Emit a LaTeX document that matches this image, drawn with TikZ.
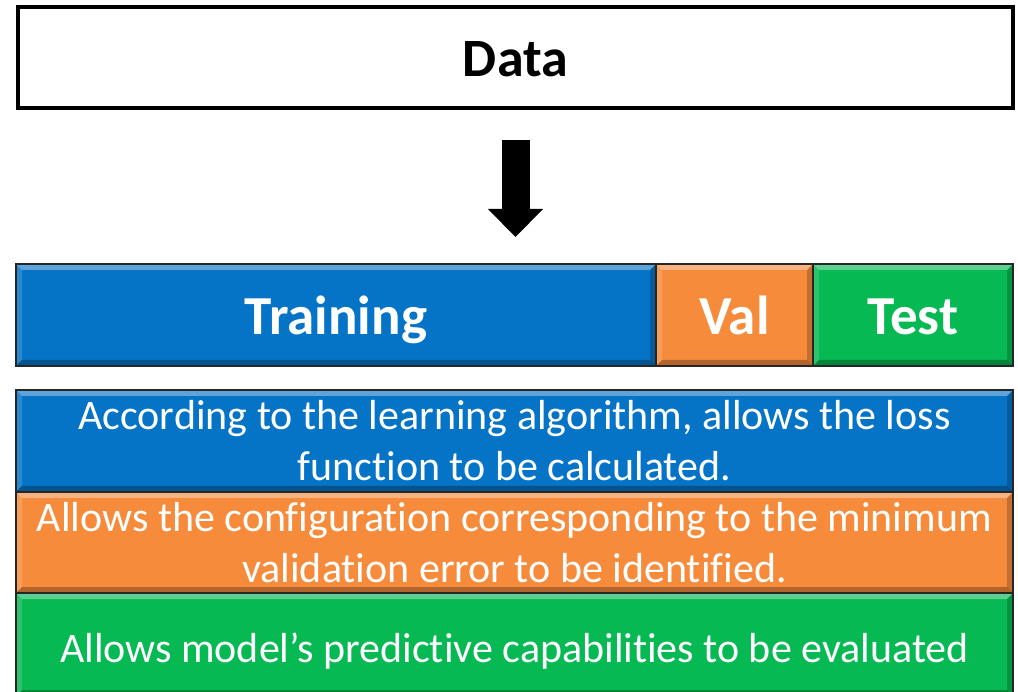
\documentclass[tikz,border=0pt]{standalone}
\usepackage{fontspec}
\setmainfont{Carlito}[Ligatures=NoCommon]
\usetikzlibrary{arrows.meta,calc}
\definecolor{trainblue}{RGB}{5,116,198}
\definecolor{valorange}{RGB}{246,139,60}
\definecolor{testgreen}{RGB}{6,185,83}
\tikzset{
  bevel/.style={path picture={
    % light top and left edges, shaded bottom and right edges
    \fill[white,opacity=.35]
      (path picture bounding box.north west) -- (path picture bounding box.north east)
      -- ([shift={(-6pt,-6pt)}]path picture bounding box.north east)
      -- ([shift={(6pt,-6pt)}]path picture bounding box.north west) -- cycle;
    \fill[white,opacity=.15]
      (path picture bounding box.north west) -- (path picture bounding box.south west)
      -- ([shift={(6pt,6pt)}]path picture bounding box.south west)
      -- ([shift={(6pt,-6pt)}]path picture bounding box.north west) -- cycle;
    \fill[black,opacity=.28]
      (path picture bounding box.south west) -- (path picture bounding box.south east)
      -- ([shift={(-6pt,6pt)}]path picture bounding box.south east)
      -- ([shift={(6pt,6pt)}]path picture bounding box.south west) -- cycle;
    \fill[black,opacity=.2]
      (path picture bounding box.north east) -- (path picture bounding box.south east)
      -- ([shift={(-6pt,6pt)}]path picture bounding box.south east)
      -- ([shift={(-6pt,-6pt)}]path picture bounding box.north east) -- cycle;
  }},
  part/.style={draw=black!85, line width=1.5pt, inner sep=0pt, outer sep=0pt,
    text=white, bevel},
  splitlabel/.style={font=\fontsize{55}{60}\selectfont\bfseries, text height=40pt, text depth=0pt},
  desc/.style={font=\fontsize{42}{51}\selectfont, align=center},
  onelinedesc/.style={font=\fontsize{42}{51}\selectfont, text height=35pt, text depth=0pt},
  databox/.style={draw=black, line width=4pt, fill=white, inner sep=0pt, outer sep=0pt,
    font=\fontsize{54}{60}\selectfont\bfseries, text height=39pt, text depth=0pt},
  bigarrow/.style={line width=28pt, -{Triangle[width=55pt,length=28pt,line width=0pt]}},
}
\begin{document}
\begin{tikzpicture}[x=1pt,y=-1pt]
\useasboundingbox (0,0) rectangle (1018,692);

% source data
\node[databox, minimum width=995pt, minimum height=101pt] (data) at (515.5,57.5) {Data};

% split bar
\node[part, fill=trainblue, splitlabel, minimum width=640pt, minimum height=102pt] (train) at (336,315) {Training};
\node[part, fill=valorange, splitlabel, minimum width=157pt, minimum height=102pt] (val) at (734.5,315) {Val};
\node[part, fill=testgreen, splitlabel, minimum width=200pt, minimum height=102pt] (test) at (913,315) {Test};

% arrow from the data to the split
\draw[bigarrow, shorten <=32pt, shorten >=27pt] (data.south) -- (data.south |- train.north);

% role of each subset
\node[part, fill=trainblue, desc, minimum width=997pt, minimum height=102pt] (traindesc) at (514.5,441)
  {According to the learning algorithm, allows the loss\\function to be calculated.};
\node[part, fill=valorange, desc, minimum width=997pt, minimum height=101pt] (valdesc) at (514.5,542.5)
  {Allows the configuration corresponding to the minimum\\validation error to be identified.};
\node[part, fill=testgreen, onelinedesc, minimum width=997pt, minimum height=103pt] (testdesc) at (514.5,644.5)
  {Allows model’s predictive capabilities to be evaluated};
\end{tikzpicture}
\end{document}
